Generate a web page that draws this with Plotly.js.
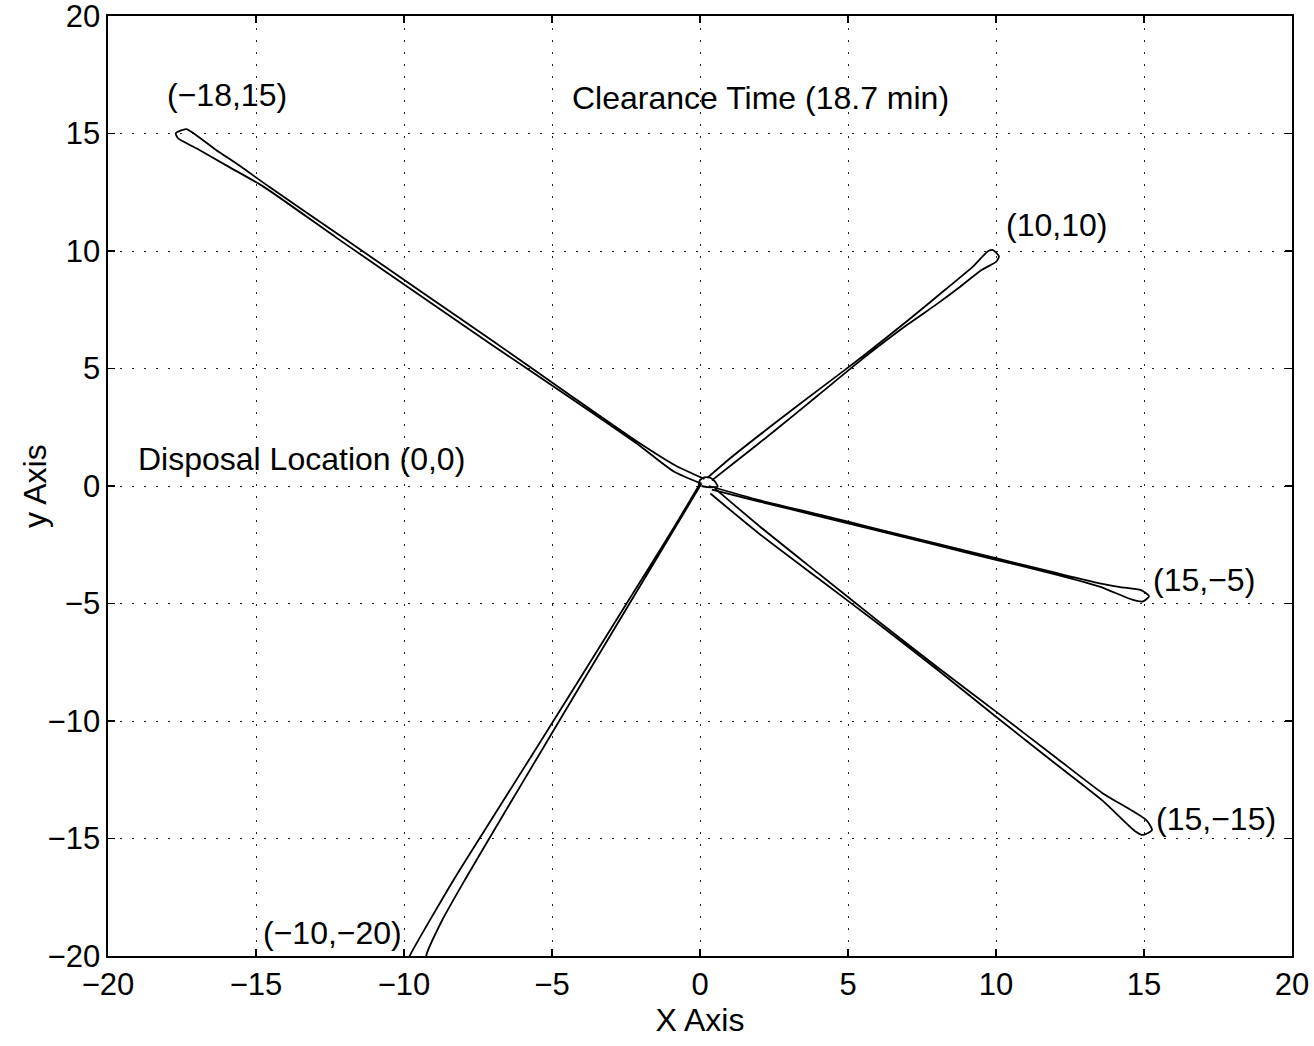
<!DOCTYPE html>
<html>
<head>
<meta charset="utf-8">
<script src="https://cdn.plot.ly/plotly-3.0.1.min.js"></script>
<style>html,body{margin:0;padding:0;background:#fff;}#chart{width:1314px;height:1046px;}</style>
</head>
<body>
<div id="chart"></div>
<script>
// Trajectory loops, data units
const loopA_x = [0.15, -0.8, -2.1, -4.35, -6.95, -9.6, -12.2, -14.53, -15.6, -16.35, -17.03, -17.36, -17.71, -17.64, -17.0, -15.9, -14.76, -12.3, -9.7, -7.05, -4.4, -2.15, -0.9, 0.05];
const loopA_y = [0.30, 0.85, 1.87, 3.83, 6.13, 8.43, 10.69, 12.71, 13.67, 14.30, 14.94, 15.19, 15.01, 14.80, 14.36, 13.57, 12.75, 10.58, 8.32, 6.02, 3.77, 1.82, 0.63, 0.10];

const loopB_x = [0.25, 1.0, 2.5, 4.0, 5.5, 7.0, 8.3, 9.2, 9.73, 9.90, 10.10, 10.01, 9.5, 8.8, 8.0, 7.0, 5.5, 4.0, 2.5, 1.2, 0.4];
const loopB_y = [0.35, 1.16, 2.65, 4.09, 5.52, 7.02, 8.37, 9.31, 9.99, 10.04, 9.77, 9.55, 9.18, 8.49, 7.74, 6.86, 5.42, 3.87, 2.33, 1.03, 0.24];

const loopC_x = [0.3, 2.0, 4.0, 6.0, 8.0, 10.0, 12.0, 13.5, 14.2, 14.90, 15.17, 14.97, 14.63, 13.5, 12.0, 10.0, 8.0, 6.0, 4.0, 2.0, 0.8, 0.4];
const loopC_y = [0.0, -0.60, -1.21, -1.83, -2.45, -3.07, -3.69, -4.14, -4.30, -4.43, -4.69, -4.91, -4.85, -4.28, -3.76, -3.14, -2.52, -1.90, -1.28, -0.66, -0.28, -0.15];

const loopD_x = [0.5, 2.0, 4.0, 6.0, 8.0, 10.0, 12.0, 13.6, 15.07, 15.27, 14.97, 14.70, 13.6, 12.0, 10.0, 8.0, 6.0, 4.0, 2.0, 0.35];
const loopD_y = [-0.1, -1.70, -3.72, -5.73, -7.69, -9.60, -11.53, -13.07, -14.21, -14.64, -14.85, -14.69, -13.39, -11.81, -9.82, -7.80, -5.84, -3.94, -2.03, -0.32];

const loopE_x = [0.0, -0.995, -2.48, -3.96, -5.45, -6.95, -8.29, -9.81, -10.0, -9.7, -9.2, -9.25, -8.72, -7.91, -6.65, -5.23, -3.81, -2.38, -0.95, 0.05];
const loopE_y = [0.1, -2.0, -5.0, -8.0, -11.0, -14.0, -16.69, -20.0, -20.6, -20.9, -20.5, -20.0, -18.5, -16.69, -14.0, -11.0, -8.0, -5.0, -2.0, 0.1];

const originLoop_x = [-0.05, 0.0, 0.15, 0.35, 0.5, 0.6, 0.45, 0.25, 0.05];
const originLoop_y = [0.05, 0.25, 0.37, 0.35, 0.2, -0.03, -0.05, -0.05, 0.0];

// Labels
const labelText = ["(−18,15)", "Clearance Time (18.7 min)", "(10,10)", "Disposal Location (0,0)", "(15,−5)", "(15,−15)", "(−10,−20)"];
const labelX = [-15.98, 2.03, 12.03, -13.45, 17.03, 17.43, -12.4];
const labelY = [16.63, 16.5, 11.09, 1.14, -4.01, -14.18, -19.04];

const xTitle = "X Axis";
const yTitle = "y Axis";
const tickVals = [-20, -15, -10, -5, 0, 5, 10, 15, 20];

const FONT = 'Liberation Sans, Arial, Helvetica, sans-serif';
const lineStyle = {color: '#000', width: 1.8};

const loops = [[loopA_x, loopA_y], [loopB_x, loopB_y], [loopC_x, loopC_y], [loopD_x, loopD_y], [loopE_x, loopE_y], [originLoop_x, originLoop_y]];
const traces = loops.map(([xs, ys]) => ({
  x: xs, y: ys, type: 'scatter', mode: 'lines',
  line: Object.assign({shape: 'spline', smoothing: 0.6}, lineStyle),
  hoverinfo: 'skip', showlegend: false
}));

const annotations = labelText.map((t, i) => ({
  x: labelX[i], y: labelY[i], xref: 'x', yref: 'y', text: t, showarrow: false,
  xanchor: 'center', yanchor: 'middle', font: {family: FONT, size: 32, color: '#000'}
}));
annotations.push({
  x: -0.0617, y: 0.5, xref: 'paper', yref: 'paper', text: yTitle, showarrow: false, textangle: -90,
  xanchor: 'center', yanchor: 'middle', font: {family: FONT, size: 32, color: '#000'}
});

const axisCommon = {
  range: [-20, 20], tickvals: tickVals, ticks: 'inside', ticklen: 7, tickwidth: 1.2, tickcolor: '#000',
  showline: true, linecolor: '#000', linewidth: 1.6, mirror: 'ticks',
  showgrid: true, gridcolor: '#222', gridwidth: 1, griddash: '2px,10px',
  zeroline: false, tickfont: {family: FONT, size: 31, color: '#000'}, fixedrange: true,
  ticklabeloverflow: 'allow'
};

const layout = {
  width: 1314, height: 1046,
  margin: {l: 108, r: 22, t: 16, b: 90},
  paper_bgcolor: '#fff', plot_bgcolor: '#fff',
  showlegend: false,
  xaxis: Object.assign({}, axisCommon, {title: {text: xTitle, font: {family: FONT, size: 32, color: '#000'}, standoff: 4}}),
  yaxis: Object.assign({}, axisCommon),
  annotations: annotations
};

Plotly.newPlot('chart', traces, layout, {displayModeBar: false, staticPlot: true});
</script>
</body>
</html>
